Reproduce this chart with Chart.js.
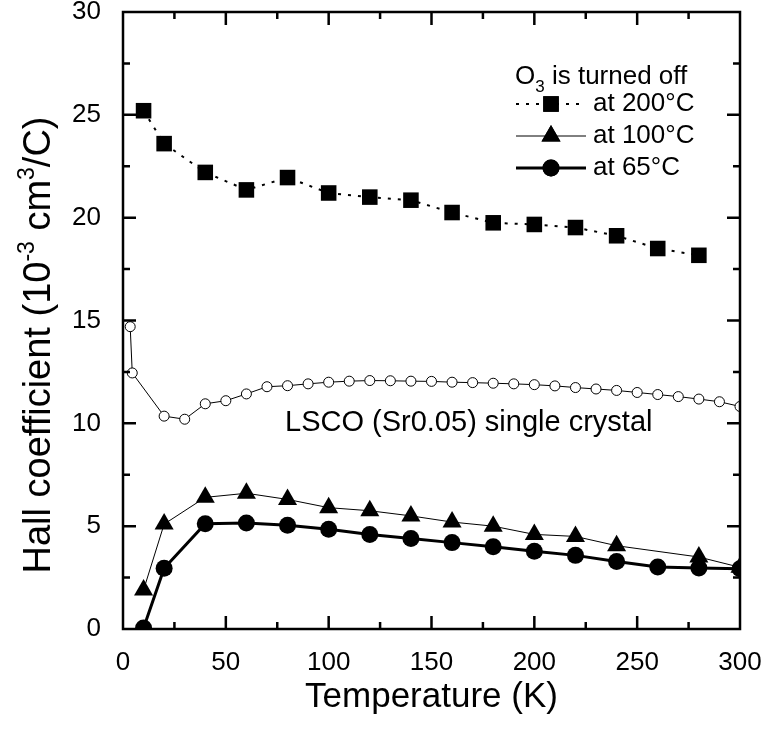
<!DOCTYPE html>
<html>
<head>
<meta charset="utf-8">
<script src="https://cdn.jsdelivr.net/npm/chart.js@4.4.0/dist/chart.umd.min.js"></script>
<style>
  html, body { margin: 0; padding: 0; background: #fff; }
  #wrap { width: 768px; height: 740px; }
</style>
</head>
<body>
<div id="wrap"><canvas id="hall"></canvas></div>
<script>
// temperatures (K) and Hall coefficient (10^-3 cm^3/C)
const temp200 = [10, 20, 40, 60, 80, 100, 120, 140, 160, 180, 200, 220, 240, 260, 280];
const hall200 = [25.2, 23.6, 22.2, 21.35, 21.95, 21.2, 21.0, 20.85, 20.25, 19.75, 19.67, 19.52, 19.12, 18.5, 18.17];

const temp100 = [10, 20, 40, 60, 80, 100, 120, 140, 160, 180, 200, 220, 240, 280, 300];
const hall100 = [1.9, 5.1, 6.4, 6.6, 6.3, 5.9, 5.75, 5.5, 5.2, 5.0, 4.6, 4.5, 4.05, 3.5, 3.0];

const temp65 = [10, 20, 40, 60, 80, 100, 120, 140, 160, 180, 200, 220, 240, 260, 280, 300];
const hall65 = [0.05, 2.95, 5.12, 5.15, 5.05, 4.85, 4.6, 4.4, 4.2, 4.0, 3.78, 3.58, 3.28, 3.02, 2.97, 2.93];

const tempLsco = [3.5, 4.5, 20, 30, 40, 50, 60, 70, 80, 90, 100, 110, 120, 130, 140, 150, 160,
  170, 180, 190, 200, 210, 220, 230, 240, 250, 260, 270, 280, 290, 300];
const hallLsco = [14.7, 12.45, 10.35, 10.2, 10.95, 11.1, 11.43, 11.78, 11.83, 11.92, 12.0, 12.05, 12.08, 12.07, 12.05, 12.04, 12.0,
  11.98, 11.95, 11.92, 11.88, 11.82, 11.74, 11.67, 11.6, 11.5, 11.4, 11.3, 11.18, 11.05, 10.82];

const xTicks = [0, 50, 100, 150, 200, 250, 300];
const yTicks = [0, 5, 10, 15, 20, 25, 30];

const legendTitle = ['O', '3', ' is turned off'];
const legendLabels = ['at 200°C', 'at 100°C', 'at 65°C'];
const sampleLabel = 'LSCO (Sr0.05) single crystal';

const FONT = '"Liberation Sans", Arial, sans-serif';

function pts(xs, ys) {
  return xs.map((x, i) => ({ x: x, y: ys[i] }));
}

const series = [
  { label: legendLabels[0], data: pts(temp200, hall200), borderWidth: 2, borderDash: [3, 7],
    pointStyle: 'rect', pointRadius: 11 },
  { label: legendLabels[1], data: pts(temp100, hall100), borderWidth: 1,
    pointStyle: 'triangle', pointRadius: 11 },
  { label: legendLabels[2], data: pts(temp65, hall65), borderWidth: 3,
    pointStyle: 'circle', pointRadius: 8.5 },
  { label: sampleLabel, data: pts(tempLsco, hallLsco), borderWidth: 1,
    pointStyle: 'circle', pointRadius: 5, pointBackgroundColor: '#fff', pointBorderWidth: 1 }
];

const datasets = series.map(s => Object.assign({
  borderColor: '#000',
  backgroundColor: '#000',
  pointBackgroundColor: '#000',
  pointBorderColor: '#000',
  pointBorderWidth: 0,
  pointHoverRadius: 0,
  tension: 0,
  fill: false
}, s));

// frame with inward ticks on all four sides
const frame = {
  id: 'frame',
  afterDatasetsDraw(chart) {
    const { ctx, chartArea: a, scales: { x, y } } = chart;
    ctx.save();
    ctx.strokeStyle = '#000';
    ctx.lineWidth = 2.5;
    ctx.strokeRect(a.left, a.top, a.right - a.left, a.bottom - a.top);
    ctx.beginPath();
    for (let v = 25; v < 300; v += 25) {
      const px = x.getPixelForValue(v);
      const len = v % 50 === 0 ? 13 : 7;
      ctx.moveTo(px, a.bottom); ctx.lineTo(px, a.bottom - len);
      ctx.moveTo(px, a.top); ctx.lineTo(px, a.top + len);
    }
    for (let v = 2.5; v < 30; v += 2.5) {
      const py = y.getPixelForValue(v);
      const len = v % 5 === 0 ? 13 : 7;
      ctx.moveTo(a.left, py); ctx.lineTo(a.left + len, py);
      ctx.moveTo(a.right, py); ctx.lineTo(a.right - len, py);
    }
    ctx.stroke();
    ctx.restore();
  }
};

// y title with superscripts, legend and sample note
const texts = {
  id: 'texts',
  afterDraw(chart) {
    const { ctx } = chart;
    ctx.save();
    ctx.fillStyle = '#000';
    ctx.textBaseline = 'alphabetic';

    // y axis title
    const big = '38px ' + FONT, small = '23px ' + FONT;
    const parts = [
      ['Hall coefficient (10', big, 0], ['-3', small, -16], [' cm', big, 0],
      ['3', small, -16], ['/C)', big, 0]
    ];
    let total = 0;
    parts.forEach(p => { ctx.font = p[1]; total += ctx.measureText(p[0]).width; });
    ctx.translate(50, 345);
    ctx.rotate(-Math.PI / 2);
    let cx = -total / 2;
    parts.forEach(p => {
      ctx.font = p[1];
      ctx.fillText(p[0], cx, p[2]);
      cx += ctx.measureText(p[0]).width;
    });
    ctx.setTransform(chart.currentDevicePixelRatio, 0, 0, chart.currentDevicePixelRatio, 0, 0);

    // legend title
    ctx.font = '26px ' + FONT;
    let lx = 515;
    ctx.fillText(legendTitle[0], lx, 84);
    lx += ctx.measureText(legendTitle[0]).width;
    ctx.font = '17px ' + FONT;
    ctx.fillText(legendTitle[1], lx, 92);
    lx += ctx.measureText(legendTitle[1]).width;
    ctx.font = '26px ' + FONT;
    ctx.fillText(legendTitle[2], lx, 84);

    // legend entries
    const rows = [104, 136, 168];
    for (let i = 0; i < 3; i++) {
      const ds = chart.data.datasets[i];
      const ry = rows[i];
      ctx.save();
      ctx.strokeStyle = '#000';
      ctx.lineWidth = ds.borderWidth;
      ctx.setLineDash(ds.borderDash || []);
      ctx.beginPath();
      ctx.moveTo(516, ry); ctx.lineTo(586, ry);
      ctx.stroke();
      ctx.restore();
      Chart.helpers.drawPoint(ctx, { pointStyle: ds.pointStyle, radius: ds.pointRadius, borderWidth: 0 }, 551, ry);
      ctx.fill();
      ctx.font = '26px ' + FONT;
      ctx.textBaseline = 'middle';
      ctx.fillText(legendLabels[i], 593, ry);
      ctx.textBaseline = 'alphabetic';
    }

    // sample note
    ctx.font = '29px ' + FONT;
    ctx.textBaseline = 'middle';
    ctx.fillText(sampleLabel, 285, 423);
    ctx.restore();
  }
};

new Chart(document.getElementById('hall'), {
  type: 'line',
  data: { datasets: datasets },
  options: {
    responsive: true,
    maintainAspectRatio: false,
    animation: false,
    layout: { padding: { top: 12, right: 28, left: 0, bottom: 0 } },
    plugins: {
      legend: { display: false },
      tooltip: { enabled: false }
    },
    scales: {
      x: {
        type: 'linear',
        min: 0,
        max: 300,
        afterBuildTicks: s => { s.ticks = xTicks.map(v => ({ value: v })); },
        afterFit: s => { s.height = 111; s.paddingLeft = 0; s.paddingRight = 0; },
        grid: { display: false },
        border: { display: false },
        ticks: { color: '#000', font: { family: FONT, size: 26 }, padding: 10, maxRotation: 0 },
        title: { display: true, text: 'Temperature (K)', color: '#000',
          font: { family: FONT, size: 35 }, padding: { top: 0, bottom: 22 } }
      },
      y: {
        min: 0,
        max: 30,
        afterBuildTicks: s => { s.ticks = yTicks.map(v => ({ value: v })); },
        afterFit: s => { s.width = 123; s.paddingTop = 0; s.paddingBottom = 0; },
        grid: { display: false },
        border: { display: false },
        ticks: { color: '#000', font: { family: FONT, size: 26 }, padding: 14 }
      }
    }
  },
  plugins: [frame, texts]
});
</script>
</body>
</html>
